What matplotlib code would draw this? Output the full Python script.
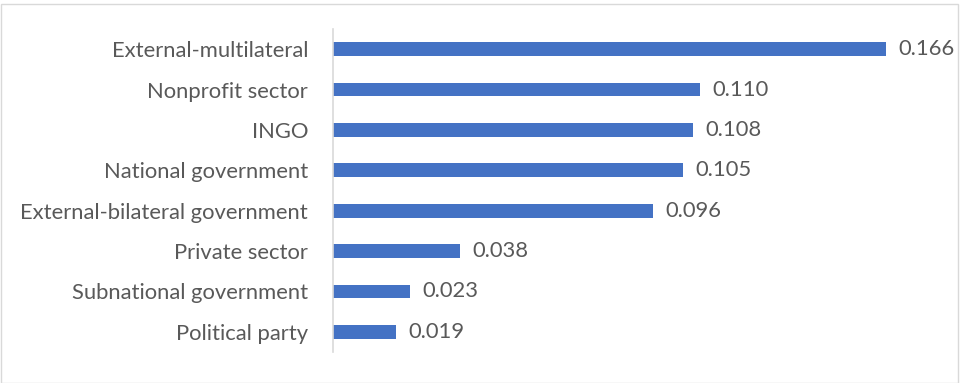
import matplotlib.pyplot as plt
from matplotlib.patches import Rectangle

categories = ['External-multilateral', 'Nonprofit sector', 'INGO', 'National government',
              'External-bilateral government', 'Private sector', 'Subnational government',
              'Political party']
values = [0.166, 0.110, 0.108, 0.105, 0.096, 0.038, 0.023, 0.019]

plt.rcParams['font.family'] = ['Lato', 'DejaVu Sans']
text_color = '#595959'
fsize = 15.8

fig = plt.figure(figsize=(9.61, 3.83), dpi=100)
ax = fig.add_axes([333 / 961, 1 - 352 / 383, 600 / 961, 323 / 383])

ypos = list(range(len(categories)))[::-1]
bars = ax.barh(ypos, values, height=0.34, color='#4472C4')

for y, v in zip(ypos, values):
    ax.annotate(f'{v:.3f}', (v, y), xytext=(9, 0), textcoords='offset points',
                va='center', ha='left', fontsize=fsize, color=text_color)

ax.set_yticks(ypos)
ax.set_yticklabels(categories, fontsize=fsize, color=text_color)
ax.tick_params(axis='y', length=0, pad=18)
ax.set_xticks([])
ax.set_xlim(0, 0.18)
ax.set_ylim(-0.5, len(categories) - 0.5)

for side in ['top', 'right', 'bottom']:
    ax.spines[side].set_visible(False)
ax.spines['left'].set_color('#d9d9d9')
ax.spines['left'].set_linewidth(1.2)

# chart border
fig.patches.append(Rectangle((0.5 / 961, 0.5 / 383), 1 - 4 / 961, 1 - 4 / 383,
                             transform=fig.transFigure, fill=False,
                             edgecolor='#d9d9d9', linewidth=1))

fig.savefig('out.png', dpi=100)
